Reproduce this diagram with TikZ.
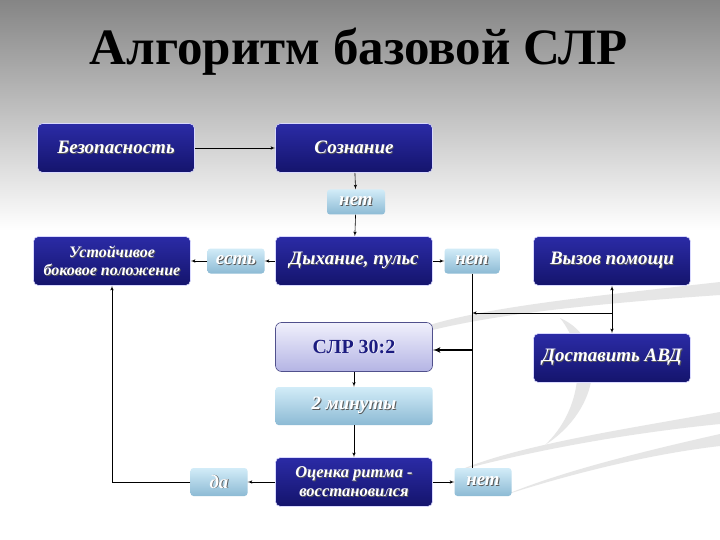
\documentclass[tikz,border=0pt]{standalone}
\usepackage{fontspec}
\setmainfont{Liberation Serif}
\usepackage{tikz}
\usetikzlibrary{arrows, positioning, calc, shadings}
\definecolor{navytop}{HTML}{2B2BA6}
\definecolor{navybot}{HTML}{14146C}
\definecolor{skytop}{HTML}{D2ECF8}
\definecolor{skybot}{HTML}{8CBAD4}
\definecolor{lavtop}{HTML}{F0F0FC}
\definecolor{lavbot}{HTML}{B4B4E4}
\definecolor{lavedge}{HTML}{50508C}
\definecolor{slrtext}{HTML}{1C1C80}
\definecolor{bgtop}{HTML}{858585}
\definecolor{swoosh}{HTML}{E6E6E6}
\newcommand{\shd}[2][black!65]{\makebox[0pt][l]{\hspace{0.9pt}\raisebox{-0.9pt}{\textcolor{#1}{#2}}}#2}

\begin{document}
\begin{tikzpicture}[x=1pt, y=-1pt,
        box/.style={rectangle, rounded corners=5pt, top color=navytop, bottom color=navybot, draw=white!85!blue, line width=0.6pt, text=white, minimum width=157pt, minimum height=49pt, align=center, font=\fontsize{19}{21}\selectfont\bfseries\itshape},
        smallbox/.style={rectangle, rounded corners=3pt, top color=skytop, bottom color=skybot, text=white, minimum width=57pt, minimum height=26pt, inner sep=1pt, font=\fontsize{19}{21}\selectfont\bfseries\itshape},
        slrbox/.style={rectangle, rounded corners=6pt, top color=lavtop, bottom color=lavbot, draw=lavedge, line width=0.6pt, text=slrtext, minimum width=157pt, minimum height=49pt, font=\fontsize{20}{22}\selectfont\bfseries},
        line/.style={draw, -latex', semithick, black}]

        \useasboundingbox (0,0) rectangle (720,540);

        % Background
        \fill[white] (0,0) rectangle (720,540);
        \shade[top color=bgtop, bottom color=white] (0,0) rectangle (720,230);
        \fill[swoosh] (720,282) .. controls (560,300) and (430,312) .. (385,345) .. controls (445,320) and (560,306) .. (720,295) -- cycle;
        \fill[swoosh] (560,318) .. controls (610,340) and (600,410) .. (545,445) .. controls (582,410) and (588,352) .. (560,318) -- cycle;
        \fill[swoosh] (720,412) .. controls (620,430) and (520,445) .. (460,470) .. controls (540,449) and (630,433) .. (720,424) -- cycle;
        \fill[swoosh] (720,434) .. controls (640,452) and (560,472) .. (505,495) .. controls (570,474) and (650,454) .. (720,446) -- cycle;

        % Title
        \node[font=\fontsize{51}{54}\selectfont\bfseries] (title) at (359,52) {Алгоритм базовой СЛР};

        % Nodes
        \node [box] (bez) at (116,148) {\shd{Безопасность}};
        \node [box] (soz) at (354,148) {\shd{Сознание}};
        \node [smallbox, minimum width=58pt, minimum height=25pt] (net1) at (356,202) {\shd{нет}};
        \node [box, font=\fontsize{16}{18}\selectfont\bfseries\itshape] (ust) at (112,261) {\shd{Устойчивое}\\\shd{боковое положение}};
        \node [smallbox, minimum height=25pt] (est) at (236,261) {\shd{есть}};
        \node [box] (dyh) at (354,261) {\shd{Дыхание, пульс}};
        \node [smallbox, minimum width=55pt, minimum height=25pt] (net2) at (472,261) {\shd{нет}};
        \node [box] (vyz) at (612,261) {\shd{Вызов помощи}};
        \node [slrbox] (slr) at (354,347) {\shd[white]{СЛР 30:2}};
        \node [box] (avd) at (612,358) {\shd{Доставить АВД}};
        \node [smallbox, minimum width=157pt, minimum height=38pt] (min) at (354,406) {\shd{2 минуты}};
        \node [box, font=\fontsize{16.5}{18.5}\selectfont\bfseries\itshape] (oce) at (354,482) {\shd{Оценка ритма -}\\\shd{восстановился}};
        \node [smallbox, minimum height=28pt] (da) at (219,482) {\shd{да}};
        \node [smallbox, minimum height=28pt] (net3) at (483,482) {\shd{нет}};

        % Junctions
        \coordinate (j1) at (612,313);
        \coordinate (j2) at (472,313);
        \coordinate (j3) at (472,350);

        % Arrows
        \path [line] (bez) -- (soz);
        \path [line] (soz) -- (net1);
        \path [line] (net1) -- (dyh);
        \path [line] (dyh) -- (est);
        \path [line] (est) -- (ust);
        \path [line] (dyh) -- (net2);
        \draw [latex'-latex', semithick] (vyz) -- (avd);
        \path [line] (j1) -- (j2);
        \draw [semithick] (net2.south) -- (net2.south |- net3.north);
        \path [line, line width=1.6pt] (j3) -- (slr.east |- j3);
        \path [line] (slr) -- (min);
        \path [line] (min) -- (oce);
        \path [line] (oce) -- (da);
        \path [line] (oce) -- (net3);
        \path [line] (da.west) -| (ust.south);
    \end{tikzpicture}
\end{document}
